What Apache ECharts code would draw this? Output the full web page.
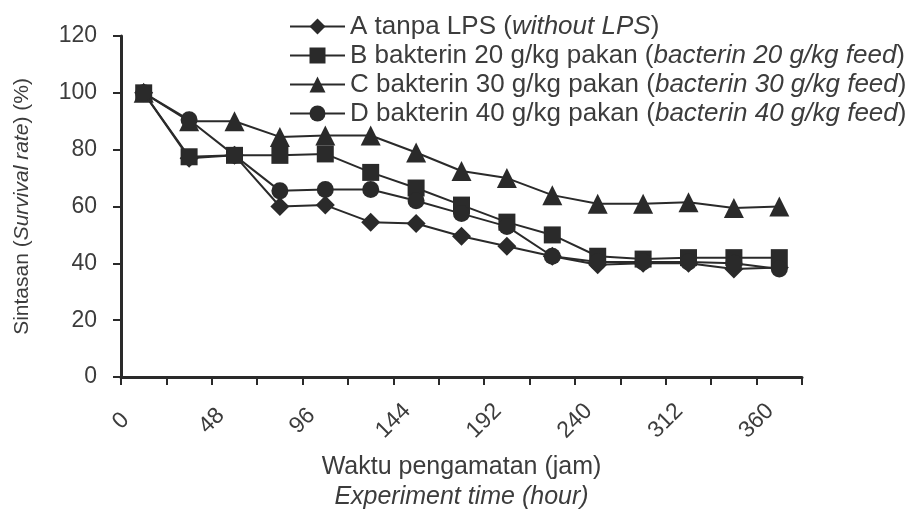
<!doctype html>
<html>
<head>
<meta charset="utf-8">
<title>sintasan</title>
<style>
	html,body{height:100%;padding:0;margin:0;background:#fff;}
	#chart{width:914px;height:526px;}
</style>
</head>
<body>
<div id="chart"></div>
<script src="https://cdn.jsdelivr.net/npm/echarts@6/dist/echarts.min.js"></script>
<script>
	// observation points (15 samplings)
	var obs = ['1','2','3','4','5','6','7','8','9','10','11','12','13','14','15'];
	// tick labels as printed under the axis ticks
	var tickLabels = ['0','','48','','96','','144','','192','','240','','312','','360',''];

	var seriesA = [100, 77, 78, 60, 60.5, 54.5, 54, 49.5, 46, 42.5, 39.5, 40, 40, 38, 38.5];
	var seriesB = [100, 77.5, 78, 78, 78.5, 72, 66.5, 60.5, 54.5, 50, 42.5, 41.5, 42, 42, 42];
	var seriesC = [100, 90, 90, 84.5, 85, 85, 79, 72.5, 70, 64, 61, 61, 61.5, 59.5, 60];
	var seriesD = [100, 90.5, 78, 65.5, 66, 66, 62, 57.5, 53, 42.5, 40.5, 40.5, 40.5, 40, 38];

	var names = ['A', 'B', 'C', 'D'];
	var legendMain = ['A tanpa LPS (', 'B bakterin 20 g/kg pakan (', 'C bakterin 30 g/kg pakan (', 'D bakterin 40 g/kg pakan ('];
	var legendItalic = ['without LPS', 'bacterin 20 g/kg feed', 'bacterin 30 g/kg feed', 'bacterin 40 g/kg feed'];

	var ink = '#2a2a2a';
	var txt = '#3c3c3c';
	var ff = '"Liberation Sans", Arial, sans-serif';

	function mkSeries(name, data, sym, size){
		return {
			name: name,
			type: 'line',
			xAxisIndex: 0,
			data: data,
			symbol: sym,
			symbolSize: size,
			lineStyle: {color: ink, width: 2},
			itemStyle: {color: ink},
			emphasis: {disabled: true},
			animation: false
		};
	}

	var myChart = echarts.init(document.getElementById('chart'));
	var option = {
		backgroundColor: '#fff',
		grid: {left: 121, right: 112, top: 36, bottom: 149},
		legend: {
			orient: 'vertical',
			left: 284,
			top: 7,
			itemWidth: 55,
			itemHeight: 20,
			itemGap: 0,
			data: names,
			formatter: function(n){
				var i = names.indexOf(n);
				return '{n|' + legendMain[i] + '}{i|' + legendItalic[i] + '}{n|)}';
			},
			textStyle: {
				color: txt,
				lineHeight: 29,
				rich: {
					n: {fontFamily: ff, fontSize: 26, color: txt, lineHeight: 29},
					i: {fontFamily: ff, fontSize: 26, fontStyle: 'italic', color: txt, lineHeight: 29}
				}
			}
		},
		xAxis: [
			{
				type: 'category',
				data: obs,
				boundaryGap: true,
				position: 'bottom',
				axisLine: {lineStyle: {color: ink, width: 3}},
				axisTick: {show: true, length: 8, lineStyle: {color: ink, width: 2}},
				axisLabel: {show: false},
				splitLine: {show: false}
			},
			{
				type: 'category',
				data: tickLabels,
				boundaryGap: false,
				position: 'bottom',
				axisLine: {show: false},
				axisTick: {show: false},
				axisLabel: {
					interval: 0,
					rotate: 45,
					align: 'center',
					verticalAlign: 'middle',
					margin: 44,
					fontFamily: ff,
					fontSize: 23,
					color: txt
				},
				splitLine: {show: false},
				name: '{a|Waktu pengamatan (jam)}\n{b|Experiment time (hour)}',
				nameLocation: 'middle',
				nameGap: 75,
				nameTextStyle: {
					rich: {
						a: {fontFamily: ff, fontSize: 25, color: txt, lineHeight: 30},
						b: {fontFamily: ff, fontSize: 25, fontStyle: 'italic', color: txt, lineHeight: 30}
					}
				}
			}
		],
		yAxis: {
			type: 'value',
			min: 0,
			max: 120,
			interval: 20,
			axisLine: {show: true, lineStyle: {color: ink, width: 3}},
			axisTick: {show: true, length: 8, lineStyle: {color: ink, width: 2}},
			axisLabel: {fontFamily: ff, fontSize: 23, color: txt, margin: 24},
			splitLine: {show: false},
			name: '{n|Sintasan (}{i|Survival rate}{n|) (%)}',
			nameLocation: 'middle',
			nameRotate: 90,
			nameGap: 88,
			nameTextStyle: {
				rich: {
					n: {fontFamily: ff, fontSize: 21, color: txt},
					i: {fontFamily: ff, fontSize: 21, fontStyle: 'italic', color: txt}
				}
			}
		},
		series: [
			mkSeries('A', seriesA, 'diamond', 19),
			mkSeries('B', seriesB, 'rect', 17),
			mkSeries('C', seriesC, 'triangle', 20),
			mkSeries('D', seriesD, 'circle', 17)
		]
	};
	myChart.setOption(option);
</script>
</body>
</html>
